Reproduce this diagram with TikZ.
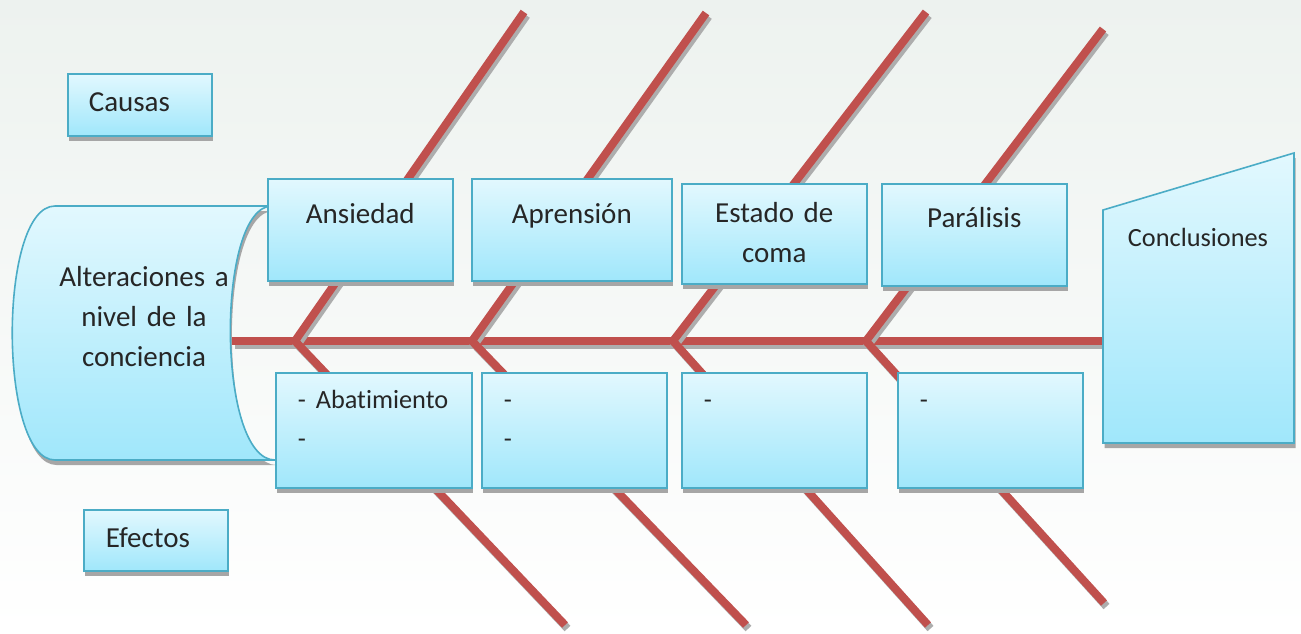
\documentclass[tikz,border=0pt]{standalone}
\usepackage{fontspec}
\setmainfont{Carlito}[Ligatures=CommonOff]
\usetikzlibrary{shadows}

\definecolor{boxtop}{HTML}{E2F8FE}
\definecolor{boxbot}{HTML}{A0E7FB}
\definecolor{boxline}{HTML}{4BACC6}
\definecolor{bonered}{HTML}{C0504D}
\definecolor{inktext}{HTML}{262626}
\definecolor{bgtop}{HTML}{EDF2EF}
\newcommand\diafont{\fontsize{29}{40}\selectfont}
\newcommand\smallfont{\fontsize{26.3}{39}\selectfont}
\newcommand\effectfont{\smallfont\hyphenpenalty=10000\relax}

\begin{document}
\begin{tikzpicture}[x=1pt, y=-1pt,
    panel/.style={draw=boxline, line width=1.6pt, top color=boxtop, bottom color=boxbot,
      drop shadow={shadow xshift=1.5pt, shadow yshift=-5pt, fill=black!35, opacity=1}},
    box/.style={panel, anchor=north west, inner sep=0pt, font=\diafont, text=inktext},
    cause/.style={box, align=center},
    effect/.style={box, align=left, font=\effectfont, inner xsep=22pt,
      text height=36pt, text depth=79pt},
    legend/.style={box, align=left, inner xsep=21pt, text width=102pt, text height=38pt},
    bone/.style={draw=bonered, line width=8pt, line join=miter,
      preaction={draw=black!32, line width=8pt, transform canvas={xshift=2.5pt, yshift=-3.5pt}}},
    plaintext/.style={font=\diafont, text=inktext, inner sep=0pt}
]
\useasboundingbox (0,0) rectangle (1301,633);
\fill[top color=bgtop, middle color=white, bottom color=white] (0,0) rectangle (1301,633);

% spine and bones
\coordinate (tail) at (232,341);
\coordinate (head) at (1103,341);
\coordinate (j1) at (295,341);
\coordinate (j2) at (472,341);
\coordinate (j3) at (673,341);
\coordinate (j4) at (866,341);
\coordinate (up1) at (524,12);
\coordinate (up2) at (706,13);
\coordinate (up3) at (926,12);
\coordinate (up4) at (1103,29);
\coordinate (dn1) at (565,625);
\coordinate (dn2) at (746,625);
\coordinate (dn3) at (928,625);
\coordinate (dn4) at (1104,603);
\draw[bone] (tail) -- (head);
\draw[bone] (up1) -- (j1) -- (dn1);
\draw[bone] (up2) -- (j2) -- (dn2);
\draw[bone] (up3) -- (j3) -- (dn3);
\draw[bone] (up4) -- (j4) -- (dn4);

% problem (cylinder) and conclusions
\path[panel] (55,206) -- (272,206) .. controls (216,206) and (216,460) .. (275,460)
  -- (55,460) .. controls (-2,460) and (-2,206) .. (55,206) -- cycle;
\node[plaintext, text width=190pt, align=center, anchor=base] (alteraciones) at (144,286)
  {Alteraciones a\\nivel de la\\conciencia};
\path[panel] (1103,210) -- (1294,153) -- (1294,443) -- (1103,443) -- cycle;
\node[plaintext, font=\smallfont, anchor=base] (conclusiones) at (1198,246) {Conclusiones};

% legend
\node[legend, text depth=24pt] (causas) at (67,73) {Causas};
\node[legend, text depth=23pt, inner xsep=22pt, text width=100pt] (efectos) at (83,509) {Efectos};

% causes
\node[cause, text width=185pt, text height=45pt, text depth=57pt] (ansiedad) at (267,178) {Ansiedad};
\node[cause, text width=200pt, text height=45pt, text depth=57pt] (aprension) at (471,178) {Aprensión};
\node[cause, text width=185pt, text height=39pt, text depth=61pt] (coma) at (681,183) {Estado de\\coma};
\node[cause, text width=185pt, text height=44pt, text depth=58pt] (paralisis) at (881,183) {Parálisis};

% effects
\node[effect, text width=152pt] (efecto1) at (275,372) {-\hspace{10pt}Abatimiento\\-};
\node[effect, text width=141pt] (efecto2) at (481,372) {-\\-};
\node[effect, text width=141pt] (efecto3) at (681,372) {-};
\node[effect, text width=141pt] (efecto4) at (897,372) {-};

\end{tikzpicture}
\end{document}
